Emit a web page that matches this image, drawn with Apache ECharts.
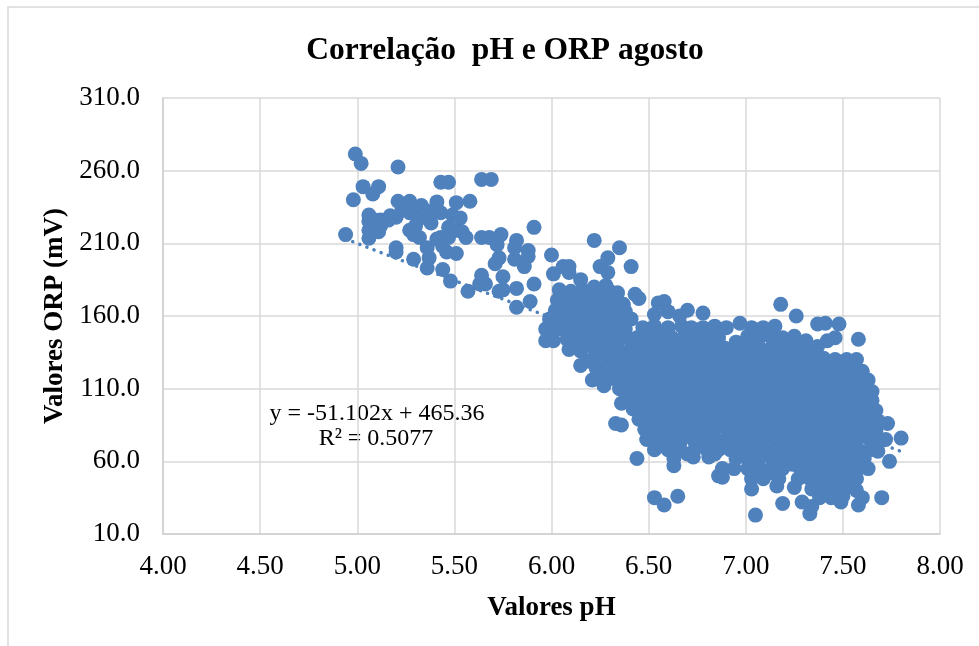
<!DOCTYPE html>
<html>
<head>
<meta charset="utf-8">
<style>
  html, body { margin: 0; padding: 0; background: #fff; }
  #chart { width: 979px; height: 646px; }
</style>
<script src="https://cdn.jsdelivr.net/npm/echarts@6/dist/echarts.min.js"></script>
</head>
<body>
<div id="chart"></div>
<script>
var titulo = "Correlação  pH e ORP agosto";
var nomeX = "Valores pH";
var nomeY = "Valores ORP (mV)";
var ticksY = [10, 60, 110, 160, 210, 260, 310];
var equacao = ["y = -51.102x + 465.36", "R² = 0.5077"];

// linha de tendencia (pontas)
var tendenciaX = [4.94, 7.8];
var tendenciaY = [213, 66.8];

// grupo pH 5 - 6, parte de cima
var pontosAltos = [
  [4.99,271.5],[5.02,265],[5.21,262.5],[5.03,249],[5.11,249],[5.08,244],[4.98,240],[4.94,216],
  [5.43,252],[5.47,252],[5.64,254],[5.69,254],[5.58,239],[5.51,238],[5.41,238.5],[5.33,236],
  [5.27,239],[5.21,239],[5.06,229.5],[5.06,225],[5.06,219],[5.06,213.5],[5.11,218],[5.12,226],
  [5.16,226],[5.2,228],[5.23,233],[5.27,231],[5.43,231],[5.38,224],[5.32,227],[5.27,219],
  [5.3,222],[5.29,216],[5.32,214],[5.36,207],[5.37,200],[5.36,193],[5.2,207],[5.2,204],
  [5.29,199],[5.44,192],[5.48,184],[5.57,177],[5.64,188],[5.63,182],[5.66,182],[5.73,177],
  [5.49,229.5],[5.53,227.5],[5.51,219],[5.54,218],[5.56,214],[5.43,214],[5.47,214],[5.41,213],
  [5.46,204],[5.51,203],[5.64,214],[5.68,214],[5.74,216],[5.72,209],[5.73,200],[5.71,196],
  [5.75,187],[5.75,178],[5.91,221],[5.82,212],[5.81,207],[5.88,205],[5.88,201],[5.81,199],
  [5.86,194],[5.82,179],[5.91,182],[5.89,170],[5.82,166],[5.12,222],[5.09,226],[5.17,229],
  [5.25,235],[5.3,232],[5.38,232],[5.47,221],[5.44,208]
];

// pH 6 - 6.5, faixa de transicao
var pontosMeio = [
  [6.22,212],[6.35,207],[6.29,200],[6.41,194],[6.25,194],[6.29,190],[6,202],[6.01,189],
  [6.06,194],[6.09,194],[6.09,190],[6.15,185],[6.43,175],[6.45,172],
  [6.04,178],[6.1,177],[6.16,178],[6.22,180],[6.28,181],[6.34,176],
  [6.03,171],[6.07,171],[6.13,171],[6.19,172],[6.25,173],[6.31,172],[6.37,168],
  [6.02,164],[6.08,164],[6.14,165],[6.2,165],[6.26,166],[6.32,165],[6.38,163],
  [5.99,158],[6.05,158],[6.11,158],[6.17,159],[6.23,158],[6.29,158],[6.35,158],[6.41,158],
  [5.97,151],[6.03,151],[6.08,152],[6.14,151],[6.2,151],[6.26,151],[6.32,152],[6.38,151],
  [5.97,143],[6.01,143],[6.08,144],[6.14,144],[6.2,144],[6.27,145],[6.33,144],[6.39,145],
  [6.09,137],[6.15,136],[6.22,137],[6.28,138],[6.34,137],
  [6.15,126],[6.19,129],[6.23,124],[6.29,126],[6.21,116],[6.27,112],[6.26,120],[6.33,120],
  [6.36,100],[6.33,86],[6.36,85],[6.44,62],[6.63,57],[6.58,170],[6.55,169],[6.53,161],[6.6,163],
  [6.7,164],[6.78,162],[6.66,160],
  [6.06,161],[6.12,161],[6.18,162],[6.24,162],[6.3,162],[6.36,161],[6.05,154],[6.11,155],[6.17,155],
  [6.23,155],[6.29,155],[6.35,155],[6.11,148],[6.17,148],[6.23,148],[6.3,148],[6.36,148],[6.1,168],
  [6.16,168],[6.22,169],[6.28,169],[6.34,169],[6.12,174],[6.18,175],[6.24,176],[6.3,177],
  [6.19,140],[6.25,141],[6.31,141],[6.25,133],[6.31,132],[6.36,127],[6.38,120]
];

// nucleo denso pH 6.4 - 7.7
var pontosNucleo = [
  [6.47,152],[6.53,153],[6.6,152],[6.67,153],[6.72,152],[6.78,152],[6.84,153],[6.9,152],[6.97,155],[7.03,152],[7.09,152],[7.15,153],
  [6.44,145],[6.5,145],[6.56,146],[6.62,145],[6.68,145],[6.74,146],[6.8,145],[6.86,145],[7.01,146],[7.07,145],[7.13,146],[7.19,145],[7.25,146],[7.31,143],
  [6.41,138],[6.47,138],[6.53,138],[6.59,139],[6.65,138],[6.71,138],[6.77,138],[6.83,139],[6.89,138],[6.95,138],[7.01,139],[7.07,138],[7.13,138],[7.19,138],[7.25,139],[7.31,138],[7.37,139],
  [6.38,131],[6.44,131],[6.5,131],[6.56,132],[6.62,131],[6.68,131],[6.74,131],[6.8,132],[6.86,131],[6.92,131],[6.98,131],[7.04,132],[7.1,131],[7.16,131],[7.22,131],[7.28,132],[7.34,131],[7.4,131],[7.46,130],[7.52,130],
  [6.35,124],[6.41,124],[6.47,124],[6.53,125],[6.59,124],[6.65,124],[6.71,124],[6.77,125],[6.83,124],[6.89,124],[6.95,124],[7.01,125],[7.07,124],[7.13,124],[7.19,124],[7.25,125],[7.31,124],[7.37,124],[7.43,124],[7.49,125],[7.55,124],[7.6,122],
  [6.32,117],[6.38,117],[6.44,117],[6.5,118],[6.56,117],[6.62,117],[6.68,117],[6.74,118],[6.8,117],[6.86,117],[6.92,117],[6.98,118],[7.04,117],[7.1,117],[7.16,117],[7.22,118],[7.28,117],[7.34,117],[7.4,117],[7.46,118],[7.52,117],[7.58,117],[7.63,116],
  [6.35,110],[6.41,110],[6.47,110],[6.53,111],[6.59,110],[6.65,110],[6.71,110],[6.77,111],[6.83,110],[6.89,110],[6.95,110],[7.01,111],[7.07,110],[7.13,110],[7.19,110],[7.25,111],[7.31,110],[7.37,110],[7.43,110],[7.49,111],[7.55,110],[7.61,110],[7.65,108],
  [6.39,103],[6.45,103],[6.51,103],[6.57,104],[6.63,103],[6.69,103],[6.75,103],[6.81,104],[6.87,103],[6.93,103],[6.99,103],[7.05,104],[7.11,103],[7.17,103],[7.23,103],[7.29,104],[7.35,103],[7.41,103],[7.47,103],[7.53,104],[7.59,103],[7.65,102],
  [6.42,96],[6.48,96],[6.54,96],[6.6,97],[6.66,96],[6.72,96],[6.78,96],[6.84,97],[6.9,96],[6.96,96],[7.02,96],[7.08,97],[7.14,96],[7.2,96],[7.26,96],[7.32,97],[7.38,96],[7.44,96],[7.5,96],[7.56,97],[7.62,96],[7.67,95],
  [6.45,89],[6.51,89],[6.57,89],[6.63,90],[6.69,89],[6.75,89],[6.81,89],[6.87,90],[6.93,89],[6.99,89],[7.05,89],[7.11,90],[7.17,89],[7.23,89],[7.29,89],[7.35,90],[7.41,89],[7.47,89],[7.53,89],[7.59,90],[7.65,89],[7.68,88],
  [6.48,82],[6.54,82],[6.6,82],[6.66,83],[6.72,82],[6.78,82],[6.84,82],[6.9,83],[6.96,82],[7.02,82],[7.08,82],[7.14,83],[7.2,82],[7.26,82],[7.32,82],[7.38,83],[7.44,82],[7.5,82],[7.56,82],[7.62,83],[7.67,81],
  [6.49,75],[6.55,75],[6.61,75],[6.67,76],[6.73,75],[6.79,75],[6.85,75],[6.91,76],[6.97,75],[7.03,75],[7.09,75],[7.15,76],[7.21,75],[7.27,75],[7.33,75],[7.39,76],[7.45,75],[7.51,75],[7.57,75],[7.63,76],[7.69,74],[7.72,75],
  [6.53,68],[6.6,68],[6.66,68],[6.74,69],[6.8,68],[6.86,68],[6.92,68],[6.98,69],[7.04,68],[7.1,68],[7.16,68],[7.22,69],[7.28,68],[7.34,68],[7.4,68],[7.46,69],[7.52,68],[7.58,68],[7.64,68],[7.68,67],
  [6.63,62],[6.73,63],[6.81,63],[6.95,62],[7.01,62],[7.07,62],[7.13,63],[7.19,62],[7.25,62],[7.31,62],[7.37,63],[7.43,62],[7.49,62],[7.55,62],[7.61,62],[7.74,60],
  [6.88,55],[6.94,55],[7.01,55],[7.07,55],[7.13,55],[7.19,55],[7.28,55],[7.34,55],[7.4,55],[7.46,56],[7.52,55],[7.58,55],[7.63,55],
  [6.86,50],[6.88,49],[7.03,48],[7.09,48],[7.17,48],[7.27,48],[7.33,48],[7.39,48],[7.45,48],[7.51,49],[7.57,48],
  [7.03,41],[7.16,43],[7.25,42],[7.34,41],[7.4,41],[7.46,41],[7.52,42],[7.57,40]
];

// mais leituras no miolo, entre as fileiras de cima
var pontosNucleo2 = [
  [6.5,148],[6.59,149],[6.7,149],[6.8,149],[7.05,149],[7.12,149],[7.22,142],
  [6.45,141],[6.55,142],[6.65,142],[6.75,142],[6.85,142],[6.95,142],[7.05,142],[7.15,142],[7.28,135],
  [6.42,134],[6.52,135],[6.62,135],[6.72,135],[6.82,135],[6.92,135],[7.02,135],[7.12,135],[7.2,135],[7.35,135],
  [6.4,128],[6.5,128],[6.6,128],[6.7,128],[6.8,128],[6.9,128],[7,128],[7.1,128],[7.2,128],[7.3,128],[7.4,128],[7.5,127],
  [6.38,121],[6.48,121],[6.58,121],[6.68,121],[6.78,121],[6.88,121],[6.98,121],[7.08,121],[7.18,121],[7.28,121],[7.38,121],[7.48,121],[7.57,120],
  [6.4,114],[6.5,114],[6.6,114],[6.7,114],[6.8,114],[6.9,114],[7,114],[7.1,114],[7.2,114],[7.3,114],[7.4,114],[7.5,114],[7.6,114],
  [6.42,107],[6.52,107],[6.62,107],[6.72,107],[6.82,107],[6.92,107],[7.02,107],[7.12,107],[7.22,107],[7.32,107],[7.42,107],[7.52,107],[7.62,106],
  [6.44,100],[6.54,100],[6.64,100],[6.74,100],[6.84,100],[6.94,100],[7.04,100],[7.14,100],[7.24,100],[7.34,100],[7.44,100],[7.54,100],[7.64,99],
  [6.46,93],[6.56,93],[6.66,93],[6.76,93],[6.86,93],[6.96,93],[7.06,93],[7.16,93],[7.26,93],[7.36,93],[7.46,93],[7.56,93],[7.64,92],
  [6.5,86],[6.6,86],[6.7,86],[6.8,86],[6.9,86],[7,86],[7.1,86],[7.2,86],[7.3,86],[7.4,86],[7.5,86],[7.6,86],[7.66,85],
  [6.52,79],[6.62,79],[6.72,79],[6.82,79],[6.92,79],[7.02,79],[7.12,79],[7.22,79],[7.32,79],[7.42,79],[7.52,79],[7.62,79],
  [6.56,72],[6.66,72],[6.76,72],[6.86,72],[6.96,72],[7.06,72],[7.16,72],[7.26,72],[7.36,72],[7.46,72],[7.56,72],[7.66,71],
  [6.7,65],[6.84,65],[6.98,65],[7.08,65],[7.18,65],[7.28,65],[7.38,65],[7.48,65],[7.58,65],
  [7.04,58],[7.14,58],[7.24,58],[7.34,58],[7.44,58],[7.54,58],
  [7.12,52],[7.3,51],[7.4,51],[7.5,52],[7.37,44],[7.43,44],[7.49,45],[7.55,44]
];

// pontos soltos da borda de baixo e da direita
var pontosBorda = [
  [7.18,168],[7.26,160],[7.37,154.5],[7.41,155],[7.48,154.5],[7.58,144],[7.46,145],[7.42,143],
  [7.57,130],[7.73,86],[7.8,76],[7.7,35],[7.58,30],[7.6,35],[7.49,32],[7.33,24],[7.34,29],
  [7.29,32],[7.19,31],[7.05,23],[6.65,36],[6.53,35],[6.58,30],[7.38,35],[7.44,35],[7.5,36]
];

var pontos = pontosAltos.concat(pontosMeio, pontosNucleo, pontosNucleo2, pontosBorda);

var fonte = '"Liberation Serif", "Times New Roman", serif';
var azul = "#4f81bd";
var cinza = "#d9d9d9";

var chart = echarts.init(document.getElementById("chart"));
chart.setOption({
  animation: false,
  backgroundColor: "#fff",
  title: {
    text: titulo,
    left: 500,
    top: 30,
    textAlign: "center",
    textStyle: { fontFamily: fonte, fontSize: 31.5, fontWeight: "bold", color: "#000" }
  },
  grid: { left: 163, top: 98, width: 777, height: 436 },
  xAxis: {
    type: "value",
    min: 4,
    max: 8,
    interval: 0.5,
    name: nomeX,
    nameLocation: "middle",
    nameGap: 61,
    nameTextStyle: { fontFamily: fonte, fontSize: 27, fontWeight: "bold", color: "#000" },
    axisLine: { lineStyle: { color: "#cfcfcf", width: 1.5 } },
    axisTick: { show: false },
    axisLabel: {
      fontFamily: fonte, fontSize: 27, color: "#000", margin: 19,
      formatter: function (v) { return v.toFixed(2); }
    },
    splitLine: { show: true, lineStyle: { color: cinza, width: 1.5 } }
  },
  yAxis: {
    type: "value",
    min: 10,
    max: 310,
    name: nomeY,
    nameLocation: "middle",
    nameGap: 87,
    nameTextStyle: { fontFamily: fonte, fontSize: 27, fontWeight: "bold", color: "#000" },
    axisLine: { show: true, lineStyle: { color: "#cfcfcf", width: 1.5 } },
    axisTick: { show: false, customValues: ticksY },
    axisLabel: {
      fontFamily: fonte, fontSize: 27, color: "#000", margin: 23,
      customValues: ticksY,
      formatter: function (v) { return v.toFixed(1); }
    },
    splitLine: { show: true, lineStyle: { color: cinza, width: 1.5 } }
  },
  graphic: [
    {
      type: "rect",
      silent: true,
      z: -1,
      shape: { x: 8, y: 7, width: 1200, height: 900 },
      style: { fill: "none", stroke: cinza, lineWidth: 1.5 }
    },
    {
      type: "text",
      silent: true,
      x: 377,
      y: 414,
      style: { text: equacao[0], font: "24px " + fonte, fill: "#000", textAlign: "center", textVerticalAlign: "middle" }
    },
    {
      type: "text",
      silent: true,
      x: 376,
      y: 439,
      style: { text: equacao[1], font: "24px " + fonte, fill: "#000", textAlign: "center", textVerticalAlign: "middle" }
    }
  ],
  series: [
    {
      type: "scatter",
      data: pontos,
      symbolSize: 15,
      itemStyle: { color: azul, opacity: 1 },
      z: 2
    },
    {
      type: "line",
      data: [[tendenciaX[0], tendenciaY[0]], [tendenciaX[1], tendenciaY[1]]],
      showSymbol: false,
      lineStyle: { color: azul, width: 3.5, type: [0.1, 7.5], cap: "round" },
      z: 3
    }
  ]
});
</script>
</body>
</html>
